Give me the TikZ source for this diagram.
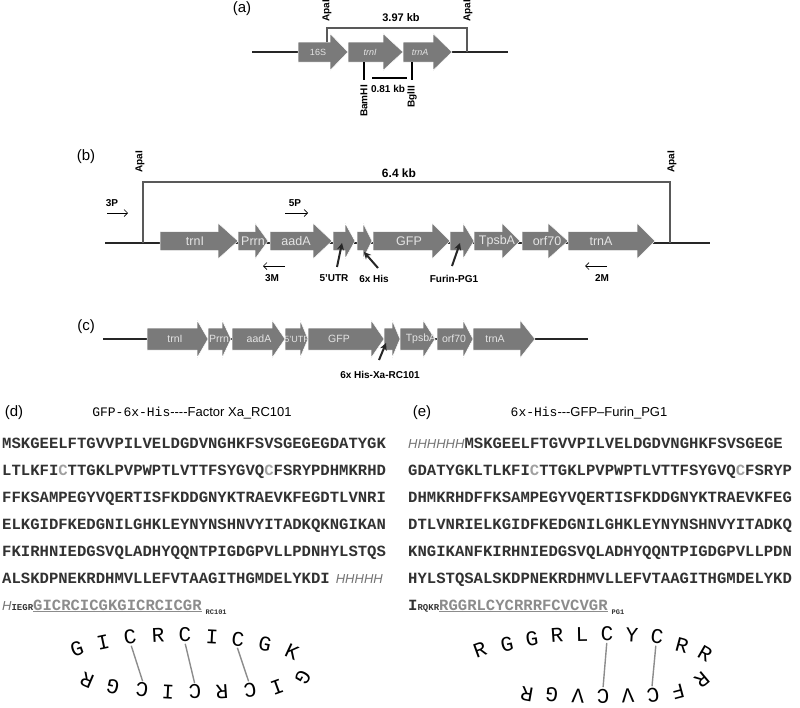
\documentclass[tikz,border=0pt]{standalone}
\usepackage{fontspec}
\setmainfont{Liberation Sans}
\newfontfamily\seqfont{Liberation Mono}
\usetikzlibrary{arrows.meta}
\definecolor{genegray}{RGB}{122,122,122}
\definecolor{genetext}{RGB}{228,228,228}
\definecolor{seqdark}{RGB}{50,50,50}
\definecolor{seqlight}{RGB}{160,160,160}
\definecolor{hisgray}{RGB}{115,115,115}
\definecolor{pepgray}{RGB}{140,140,140}
\newcommand{\seqC}[1]{{\color{seqlight}#1}}
\newcommand{\seqHis}[1]{{\color{hisgray}\normalfont\itshape\fontsize{13}{13}\selectfont #1}}
\newcommand{\seqTag}[1]{{\fontsize{9}{9}\selectfont #1}}
\newcommand{\seqPep}[1]{{\color{pepgray}\underline{#1}}}
\newcommand{\seqSub}[1]{{\hspace{4pt}\raisebox{-4pt}{\fontsize{7}{7}\selectfont #1}}}
\newcommand{\genearrow}[6]{%
  \fill[genegray, draw=white, line width=0.5pt] (#2,\gy-\gb) -- (#3,\gy-\gb) -- (#3,\gy-\gh) -- (#4,\gy) -- (#3,\gy+\gh) -- (#3,\gy+\gb) -- (#2,\gy+\gb) -- cycle;
  \node[genelab] (#1) at (#5,\gy) {#6};}
\tikzset{
  panellab/.style={inner sep=0pt, font=\fontsize{15}{15}\selectfont},
  boldlab/.style={inner sep=0pt, font=\bfseries\fontsize{10}{10}\selectfont},
  genelab/.style={inner sep=0pt, text=genetext, font=\fontsize{12.5}{12.5}\selectfont},
  backbone/.style={line width=1.6pt, draw=black!85},
  bracket/.style={line width=1.1pt, draw=black!65},
  tick/.style={line width=1.2pt, draw=black},
  primer/.style={line width=0.7pt, -{Straight Barb[length=3.5pt,width=7pt]}},
  pointer/.style={line width=2pt, draw=black!85, -{Stealth[length=7pt,width=7pt]}},
  seqrow/.style={anchor=base west, inner sep=0pt, text=seqdark, font=\seqfont\bfseries\fontsize{15.6}{15.6}\selectfont},
  hdr/.style={inner sep=0pt, font=\fontsize{13}{13}\selectfont},
  ringlet/.style={inner sep=0.5pt, font=\seqfont\fontsize{21}{21}\selectfont},
  bond/.style={line width=1.4pt, draw=black!45, shorten <=1pt, shorten >=1pt},
}
\begin{document}
\begin{tikzpicture}[x=1pt,y=-1pt]
\useasboundingbox (0,0) rectangle (800,707);
% ---------------- (a)
\node[panellab] (la) at (242,9) {(a)};
\coordinate (aL) at (252,52); \coordinate (aR) at (508,52);
\draw[backbone] (aL) -- (aR);
\def\gy{52}\def\gb{10}\def\gh{18.5}
\begin{scope}[genelab/.append style={font=\fontsize{9}{9}\selectfont}]
\genearrow{a16S}{298}{330}{348}{318}{16S}
\genearrow{atrnI}{348}{383}{403}{370}{\itshape trnI}
\genearrow{atrnA}{403}{433}{452}{420}{\itshape trnA}
\end{scope}
\coordinate (aA1) at (327,42); \coordinate (aA1t) at (327,28);
\coordinate (aA2t) at (467,28); \coordinate (aA2) at (467,52);
\draw[bracket] (aA1) -- (aA1t) -- (aA2t) -- (aA2);
\node[boldlab, rotate=90] (aApa1) at (327,11) {ApaI};
\node[boldlab, rotate=90] (aApa2) at (468,11) {ApaI};
\node[boldlab, font=\bfseries\fontsize{11}{11}\selectfont] (a397) at (401,18) {3.97 kb};
\coordinate (aB1) at (364,62); \coordinate (aB2) at (364,80);
\draw[tick] (aB1) -- (aB2);
\node[boldlab, rotate=90] (aBam) at (364,101) {BamHI};
\coordinate (aG1) at (412,62); \coordinate (aG2) at (412,80);
\draw[tick] (aG1) -- (aG2);
\node[boldlab, rotate=90] (aBgl) at (412,97) {BglII};
\coordinate (aK1) at (372,78); \coordinate (aK2) at (407,78);
\draw[tick, line width=1.5pt] (aK1) -- (aK2);
\node[boldlab] (a081) at (388,89) {0.81 kb};
% ---------------- (b)
\node[panellab] (lb) at (86,157) {(b)};
\coordinate (bL) at (105,243); \coordinate (bR) at (710,243);
\draw[backbone] (bL) -- (bR);
\coordinate (bA1) at (143,243); \coordinate (bA1t) at (143,182);
\coordinate (bA2t) at (670,182); \coordinate (bA2) at (670,243);
\draw[bracket] (bA1) -- (bA1t) -- (bA2t) -- (bA2);
\node[boldlab, rotate=90] (bApa1) at (140,162) {ApaI};
\node[boldlab, rotate=90] (bApa2) at (672,162) {ApaI};
\node[boldlab, font=\bfseries\fontsize{12}{12}\selectfont] (b64) at (399,173) {6.4 kb};
\def\gy{241}\def\gb{9.5}\def\gh{18}
\genearrow{btrnI}{160}{218}{238}{195}{trnI}
\genearrow{bPrrn}{238}{255}{268}{253}{Prrn}
\genearrow{baadA}{270}{313}{332}{296}{aadA}
\genearrow{butr}{333}{345}{355}{344}{}
\genearrow{bhis}{357}{363}{372}{364}{}
\genearrow{bGFP}{373}{432}{450}{409}{GFP}
\genearrow{bfur}{450}{463}{474}{462}{}
\genearrow{bTpsbA}{474}{502}{520}{497}{TpsbA}
\genearrow{borf}{522}{548}{568}{547}{orf70}
\genearrow{btrnA}{568}{637}{655}{601}{trnA}
% primers
\coordinate (p3a) at (107,213); \coordinate (p3b) at (128,213);
\draw[primer] (p3a) -- (p3b);
\node[boldlab] (b3P) at (112,203) {3P};
\coordinate (p5a) at (285,213); \coordinate (p5b) at (308,213);
\draw[primer] (p5a) -- (p5b);
\node[boldlab] (b5P) at (295,203) {5P};
\coordinate (m3a) at (285,266); \coordinate (m3b) at (263,266);
\draw[primer] (m3a) -- (m3b);
\node[boldlab] (b3M) at (272,278) {3M};
\coordinate (m2a) at (607,266); \coordinate (m2b) at (585,266);
\draw[primer] (m2a) -- (m2b);
\node[boldlab] (b2M) at (602,278) {2M};
% pointers
\coordinate (u1) at (337,267); \coordinate (u2) at (342,243);
\draw[pointer] (u1) -- (u2);
\node[boldlab] (bUTR) at (334,278) {5'UTR};
\coordinate (h1) at (378,268); \coordinate (h2) at (364,252);
\draw[pointer] (h1) -- (h2);
\node[boldlab] (bHis) at (374,279) {6x His};
\coordinate (f1) at (452,266); \coordinate (f2) at (460,243);
\draw[pointer] (f1) -- (f2);
\node[boldlab] (bFur) at (454,279) {Furin-PG1};
% ---------------- (c)
\node[panellab] (lc) at (86,327) {(c)};
\coordinate (cL) at (103,339); \coordinate (cR) at (588,339);
\draw[backbone] (cL) -- (cR);
\def\gy{339}\def\gb{11}\def\gh{19}
\begin{scope}[genelab/.append style={font=\fontsize{10.5}{10.5}\selectfont}]
\genearrow{ctrnI}{147}{197}{208}{175}{trnI}
\genearrow{cPrrn}{208}{222}{231}{219}{Prrn}
\genearrow{caadA}{232}{272}{285}{259}{aadA}
\genearrow{cutr}{285}{300}{308}{297}{\fontsize{9}{9}\selectfont 5'UTR}
\genearrow{cGFP}{308}{371}{384}{339}{GFP}
\genearrow{chis}{384}{392}{400}{390}{}
\genearrow{cTpsbA}{400}{423}{435}{421}{TpsbA}
\genearrow{corf}{437}{463}{473}{454}{orf70}
\genearrow{ctrnA}{473}{520}{535}{495}{trnA}
\end{scope}
\coordinate (x1) at (379,360); \coordinate (x2) at (386,343);
\draw[pointer] (x1) -- (x2);
\node[boldlab] (cXa) at (380,375) {6x His-Xa-RC101};
% ---------------- (d)
\node[panellab] (ld) at (14,413) {(d)};
\node[hdr] (dh) at (192,413) {{\seqfont GFP-6x-His}-{}-{}-{}-Factor Xa\_RC101};
\node[seqrow] (d1) at (2,448) {MSKGEELFTGVVPILVELDGDVNGHKFSVSGEGEGDATYGK};
\node[seqrow] (d2) at (2,475) {LTLKFI\seqC{C}TTGKLPVPWPTLVTTFSYGVQ\seqC{C}FSRYPDHMKRHD};
\node[seqrow] (d3) at (2,502) {FFKSAMPEGYVQERTISFKDDGNYKTRAEVKFEGDTLVNRI};
\node[seqrow] (d4) at (2,529) {ELKGIDFKEDGNILGHKLEYNYNSHNVYITADKQKNGIKAN};
\node[seqrow] (d5) at (2,556) {FKIRHNIEDGSVQLADHYQQNTPIGDGPVLLPDNHYLSTQS};
\node[seqrow] (d6) at (2,583) {ALSKDPNEKRDHMVLLEFVTAAGITHGMDELYKDI\hspace{6pt}\seqHis{HHHHH}};
\node[seqrow] (d7) at (2,610) {\seqHis{H}\seqTag{IEGR}\seqPep{GICRCICGKGICRCICGR}\seqSub{RC101}};
% ring d
\foreach \x/\y/\r/\l [count=\i] in {
  77/649/20/G, 103/642/12/I, 130/637/7/C, 158/635/3/R, 185/635/0/C,
  212/637/-3/I, 238/639/-7/C, 265/644/-12/G, 292/652/-25/K,
  303/677/-120/G, 277/687/-160/I, 250/690/-172/C, 222/692/-176/R,
  195/692/-179/C, 168/692/177/I, 142/690/173/C, 113/687/167/G, 87/680/157/R}
  \node[ringlet, rotate=\r] (dr\i) at (\x,\y) {\l};
\draw[bond] (dr3.south) -- (dr16.south);
\draw[bond] (dr5.south) -- (dr14.south);
\draw[bond] (dr7.south) -- (dr12.south);
% ---------------- (e)
\node[panellab] (le) at (422,413) {(e)};
\node[hdr] (eh) at (589,413) {{\seqfont 6x-His}-{}-{}-GFP--Furin\_PG1};
\node[seqrow] (e1) at (408,448) {\seqHis{HHHHHH}MSKGEELFTGVVPILVELDGDVNGHKFSVSGEGE};
\node[seqrow] (e2) at (408,475) {GDATYGKLTLKFI\seqC{C}TTGKLPVPWPTLVTTFSYGVQ\seqC{C}FSRYP};
\node[seqrow] (e3) at (408,502) {DHMKRHDFFKSAMPEGYVQERTISFKDDGNYKTRAEVKFEG};
\node[seqrow] (e4) at (408,529) {DTLVNRIELKGIDFKEDGNILGHKLEYNYNSHNVYITADKQ};
\node[seqrow] (e5) at (408,556) {KNGIKANFKIRHNIEDGSVQLADHYQQNTPIGDGPVLLPDN};
\node[seqrow] (e6) at (408,583) {HYLSTQSALSKDPNEKRDHMVLLEFVTAAGITHGMDELYKD};
\node[seqrow] (e7) at (408,610) {I\seqTag{RQKR}\seqPep{RGGRLCYCRRRFCVCVGR}\seqSub{PG1}};
% ring e
\foreach \x/\y/\r/\l [count=\i] in {
  480/650/20/R, 507/644/13/G, 532/639/8/G, 557/635/4/R, 582/634/1/L,
  607/634/-1/C, 632/635/-4/Y, 657/637/-8/C, 682/645/-15/R, 705/654/-30/R,
  702/680/-140/R, 678/692/-165/F, 653/695/-172/C, 628/696/-177/V,
  603/696/180/C, 578/696/177/V, 552/695/174/G, 527/694/170/R}
  \node[ringlet, rotate=\r] (er\i) at (\x,\y) {\l};
\draw[bond] (er6.south) -- (er15.south);
\draw[bond] (er8.south) -- (er13.south);
\end{tikzpicture}
\end{document}
